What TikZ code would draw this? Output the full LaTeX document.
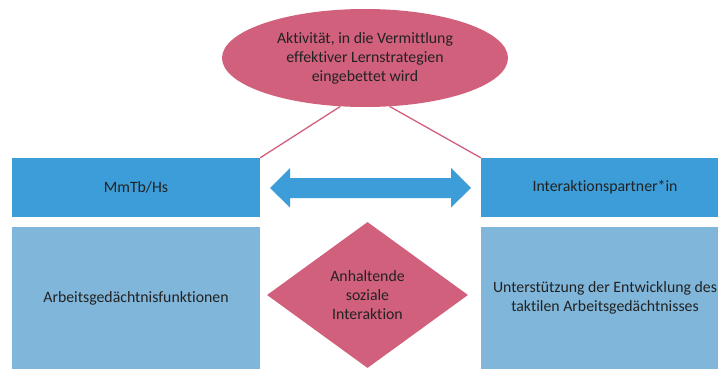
\documentclass[tikz,border=0pt]{standalone}
\usepackage{fontspec}
\setmainfont{Carlito}[Ligatures=NoCommon]
\usetikzlibrary{shapes.geometric}
\definecolor{rosa}{HTML}{D1607C}
\definecolor{blau}{HTML}{3C9DD8}
\definecolor{hblau}{HTML}{80B6DA}
\definecolor{txt}{HTML}{222222}
\tikzset{
  lbl/.style={font=\fontsize{15.8}{19}\selectfont, text=txt, align=center},
  topbox/.style={rectangle, fill=blau, inner sep=0pt, minimum width=248pt, minimum height=59pt, lbl},
  botbox/.style={rectangle, fill=hblau, inner sep=0pt, minimum width=248pt, minimum height=142pt, lbl},
  link/.style={draw=rosa, line width=1.3pt},
}
\begin{document}
\begin{tikzpicture}[x=1pt,y=-1pt]
\useasboundingbox (0,0) rectangle (718,369);
\clip (0,0) rectangle (718,369);
\fill[white] (0,0) rectangle (718,369);
% boxes
\node[topbox] (lt) at (136,187.5) {MmTb/Hs};
\node[botbox] (lb) at (136,298) {Arbeitsgedächtnisfunktionen};
\node[topbox] (rt) at (605,187.5) {Interaktionspartner*in};
\node[botbox] (rb) at (605,298) {Unterstützung der Entwicklung des\\taktilen Arbeitsgedächtnisses};
% ellipse
\node[ellipse, fill=rosa, inner sep=0pt, minimum width=286pt, minimum height=98pt, lbl] (ell) at (365,58)
  {Aktivität, in die Vermittlung\\effektiver Lernstrategien\\eingebettet wird};
\draw[link] (ell.243) -- (lt.north east);
\draw[link] (ell.297) -- (rt.north west);
% double arrow
\coordinate (al) at (270,188);
\coordinate (ar) at (471,188);
\fill[blau] (al) -- ++(20,-20) -- ++(0,10) -- (451,178) -- ++(0,-10) -- (ar)
  -- ++(-20,19.5) -- ++(0,-9.5) -- (290,198) -- ++(0,9.5) -- cycle;
% diamond
\node[diamond, fill=rosa, inner sep=0pt, minimum width=201pt, minimum height=146pt, lbl] (dia) at (367.5,295)
  {Anhaltende\\soziale\\Interaktion};
\end{tikzpicture}
\end{document}
